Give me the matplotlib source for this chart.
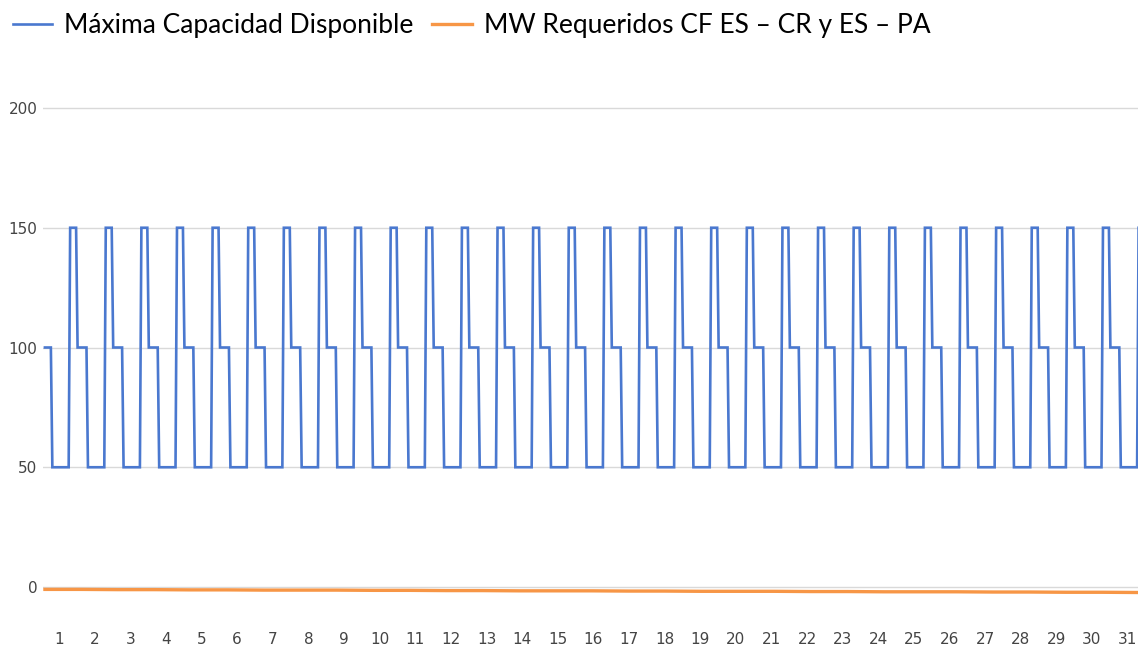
import numpy as np
import matplotlib
matplotlib.use("Agg")
import matplotlib.pyplot as plt

# ---- data (hourly) ----
series_blue = "Máxima Capacidad Disponible"
series_orange = "MW Requeridos CF ES – CR y ES – PA"

# daily hourly profile of available capacity (hour 0..23 of each day)
daily_profile = [100, 100, 100, 100, 100,
                 50, 50, 50, 50, 50, 50, 50, 50, 50, 50, 50, 50,
                 150, 150, 150, 150, 150,
                 100, 100]
n_days = 31
n_points = 738
capacity = np.tile(daily_profile, n_days)[:n_points]

# required MW, one reading per day (slightly below zero, slowly decreasing)
required = [-1.0, -1.0, -1.1, -1.1, -1.2, -1.2, -1.3, -1.3, -1.3, -1.4,
            -1.4, -1.5, -1.5, -1.6, -1.6, -1.6, -1.7, -1.7, -1.8, -1.8,
            -1.8, -1.9, -1.9, -2.0, -2.0, -2.0, -2.1, -2.1, -2.2, -2.2, -2.3]

day_labels = [str(d) for d in range(1, 32)]
y_ticks = [0, 50, 100, 150, 200]

# ---- figure ----
W, H = 1138, 652
fig = plt.figure(figsize=(W / 100, H / 100), dpi=100)

ymin, ymax = -12, 205
px_per_unit = 2.395
ax_bottom_px = 587 + (0 - ymin) * px_per_unit
ax_top_px = 108 - (ymax - 200) * px_per_unit
left_px = 43
ax = fig.add_axes([left_px / W, 1 - ax_bottom_px / H, (W - left_px) / W,
                   (ax_bottom_px - ax_top_px) / H])

hours = np.arange(n_points)
ax.plot(hours, capacity, color="#4a78cf", lw=1.9, solid_joinstyle="miter",
        label=series_blue, zorder=3)
x_req = np.linspace(0, n_points - 1, len(required))
ax.plot(x_req, required, color="#f79646", lw=2.4, label=series_orange, zorder=3)

ax.set_xlim(-1.3, 736.6)
ax.set_ylim(ymin, ymax)
ax.set_yticks(y_ticks)
ax.set_yticklabels([str(v) for v in y_ticks])
ax.set_xticks(9.6 + 24 * np.arange(n_days))
ax.set_xticklabels(day_labels)

ax.grid(axis="y", color="#d9d9d9", lw=1)
ax.set_axisbelow(True)
for s in ax.spines.values():
    s.set_visible(False)
ax.tick_params(axis="both", length=0, labelsize=11, labelcolor="#444444")
ax.tick_params(axis="y", pad=4)
ax.tick_params(axis="x", pad=12)

fig.legend(loc="upper left", bbox_to_anchor=(-0.005, 1.008), ncol=2, frameon=False,
           prop={"family": "Lato", "size": 19}, handlelength=1.5,
           handletextpad=0.45, columnspacing=0.7, borderaxespad=0.3)

fig.savefig("out.png", dpi=100)
